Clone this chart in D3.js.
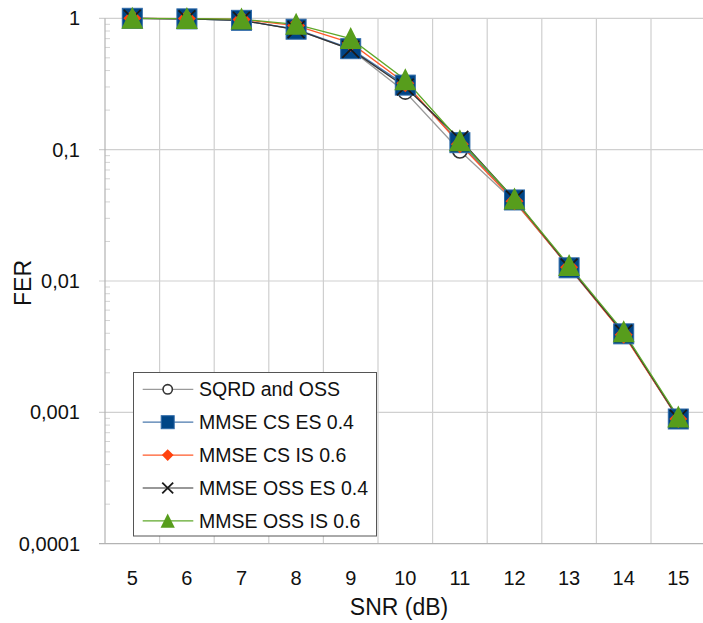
<!DOCTYPE html>
<html>
<head>
<meta charset="utf-8">
<script src="https://cdn.jsdelivr.net/npm/d3@7"></script>
<style>
  html, body { margin: 0; padding: 0; background: #fff; }
  svg { display: block; font-family: "Liberation Sans", Arial, sans-serif; }
</style>
</head>
<body>
<svg id="chart" width="703" height="623"></svg>
<script>
// SNR points (dB)
const snr = [5, 6, 7, 8, 9, 10, 11, 12, 13, 14, 15];

// Frame error rate per detector
const sqrdOss    = [1, 0.99, 0.965, 0.82, 0.58, 0.275, 0.098, 0.040, 0.0128, 0.0040, 0.00088];
const mmseCsEs   = [1, 0.99, 0.965, 0.826, 0.587, 0.31, 0.113, 0.0414, 0.0126, 0.00396, 0.00089];
const mmseCsIs   = [1, 0.995, 0.98, 0.88, 0.65, 0.32, 0.110, 0.0405, 0.0127, 0.0039, 0.00089];
const mmseOssEs  = [1, 0.99, 0.965, 0.82, 0.58, 0.30, 0.120, 0.042, 0.0128, 0.0040, 0.00090];
const mmseOssIs  = [1, 0.995, 0.985, 0.90, 0.70, 0.34, 0.117, 0.042, 0.0131, 0.0041, 0.00092];

const seriesNames = ["SQRD and OSS", "MMSE CS ES 0.4", "MMSE CS IS 0.6", "MMSE OSS ES 0.4", "MMSE OSS IS 0.6"];
const yTickValues = [0.0001, 0.001, 0.01, 0.1, 1];
const yTickLabels = ["0,0001", "0,001", "0,01", "0,1", "1"];

const series = [
  { name: seriesNames[0], values: sqrdOss,   line: "#9a9a9a", marker: "circle" },
  { name: seriesNames[1], values: mmseCsEs,  line: "#4a78ad", marker: "square" },
  { name: seriesNames[2], values: mmseCsIs,  line: "#ff5a2a", marker: "diamond" },
  { name: seriesNames[3], values: mmseOssEs, line: "#333333", marker: "cross" },
  { name: seriesNames[4], values: mmseOssIs, line: "#5fa82a", marker: "triangle" }
];

const svg = d3.select("#chart");
const plotLeft = 105, plotTop = 18.3, plotBottom = 543.7, step = 54.6;
const plotRight = plotLeft + step * snr.length;

const x = d3.scaleBand().domain(snr).range([plotLeft, plotRight]);
const y = d3.scaleLog().domain([1e-4, 1]).range([plotBottom, plotTop]);
const cx = d => x(d) + x.bandwidth() / 2;

const grid = svg.append("g");
// vertical grid at category boundaries
snr.forEach((d, i) => {
  if (i === 0) return;
  grid.append("line")
    .attr("x1", x(d)).attr("x2", x(d))
    .attr("y1", plotTop).attr("y2", plotBottom)
    .attr("stroke", "#cfcfcf").attr("stroke-width", 1.2);
});
// horizontal grid at decades
yTickValues.forEach(v => {
  if (v === 1e-4) return;
  grid.append("line")
    .attr("x1", plotLeft - 6).attr("x2", 703)
    .attr("y1", y(v)).attr("y2", y(v))
    .attr("stroke", "#d0d0d0").attr("stroke-width", 1.2);
});
// minor ticks inside the left axis
for (let e = -4; e < 0; e++) {
  for (let m = 2; m <= 9; m++) {
    const v = m * Math.pow(10, e);
    grid.append("line")
      .attr("x1", plotLeft).attr("x2", plotLeft + 5)
      .attr("y1", y(v)).attr("y2", y(v))
      .attr("stroke", "#d4d4d4").attr("stroke-width", 1);
  }
}
// axes
grid.append("line").attr("x1", plotLeft).attr("x2", plotLeft).attr("y1", plotTop).attr("y2", plotBottom)
  .attr("stroke", "#b3b3b3").attr("stroke-width", 1.2);
grid.append("line").attr("x1", plotLeft - 6).attr("x2", 703).attr("y1", plotBottom).attr("y2", plotBottom)
  .attr("stroke", "#b3b3b3").attr("stroke-width", 1.2);

// tick labels
const yAxis = d3.axisLeft(y).tickValues(yTickValues)
  .tickFormat((d, i) => yTickLabels[i]).tickSize(0).tickPadding(25);
const gy = svg.append("g").attr("transform", `translate(${plotLeft},0)`).call(yAxis);
gy.select(".domain").remove();
gy.selectAll("text").attr("font-size", 20).attr("fill", "#111")
  .attr("font-family", "Liberation Sans, Arial, sans-serif");

const xAxis = d3.axisBottom(x).tickSize(0).tickPadding(27);
const gx = svg.append("g").attr("transform", `translate(0,${plotBottom})`).call(xAxis);
gx.select(".domain").remove();
gx.selectAll("text").attr("font-size", 20).attr("fill", "#111")
  .attr("font-family", "Liberation Sans, Arial, sans-serif");

// axis titles
svg.append("text").attr("x", 399).attr("y", 615).attr("text-anchor", "middle")
  .attr("font-size", 23).attr("fill", "#111").text("SNR (dB)");
svg.append("text").attr("transform", `translate(31,${(plotTop + plotBottom) / 2 + 2}) rotate(-90)`)
  .attr("text-anchor", "middle").attr("font-size", 23).attr("fill", "#111").text("FER");

// marker drawing
function drawMarker(g, type, px, py, s) {
  if (type === "circle") {
    g.append("circle").attr("cx", px).attr("cy", py).attr("r", s * 0.36)
      .attr("fill", "#fff").attr("stroke", "#333").attr("stroke-width", 1.6);
  } else if (type === "square") {
    g.append("rect").attr("x", px - s / 2).attr("y", py - s / 2).attr("width", s).attr("height", s)
      .attr("fill", "#004586").attr("stroke", "#2f6aa8").attr("stroke-width", 1);
  } else if (type === "diamond") {
    const h = s * 0.45;
    g.append("path").attr("d", `M${px},${py - h}L${px + h},${py}L${px},${py + h}L${px - h},${py}Z`)
      .attr("fill", "#ff420e");
  } else if (type === "cross") {
    const h = s * 0.42;
    g.append("path").attr("d", `M${px - h},${py - h}L${px + h},${py + h}M${px + h},${py - h}L${px - h},${py + h}`)
      .attr("stroke", "#1a1a1a").attr("stroke-width", 1.8).attr("fill", "none");
  } else if (type === "triangle") {
    const h = s * 0.55;
    g.append("path").attr("d", `M${px},${py - h * 1.05}L${px + h},${py + h * 0.95}L${px - h},${py + h * 0.95}Z`)
      .attr("fill", "#579d1c");
  }
}

const line = d3.line().x((d, i) => cx(snr[i])).y(d => y(d));
const plot = svg.append("g");
series.forEach(s => {
  plot.append("path").datum(s.values).attr("d", line)
    .attr("fill", "none").attr("stroke", s.line).attr("stroke-width", 1.3);
});
series.forEach(s => {
  const g = plot.append("g");
  s.values.forEach((v, i) => drawMarker(g, s.marker, cx(snr[i]), y(v), 20));
});

// legend
const lg = svg.append("g");
lg.append("rect").attr("x", 133.5).attr("y", 372.5).attr("width", 243).attr("height", 163.5)
  .attr("fill", "#fff").attr("stroke", "#555").attr("stroke-width", 1);
series.forEach((s, i) => {
  const ry = 389.3 + i * 32.9;
  lg.append("line").attr("x1", 142.7).attr("x2", 193.3).attr("y1", ry).attr("y2", ry)
    .attr("stroke", s.line).attr("stroke-width", 1.2);
  drawMarker(lg, s.marker, 167.7, ry, 13);
  lg.append("text").attr("x", 199).attr("y", ry + 7).attr("font-size", 19.5).attr("fill", "#111")
    .text(s.name);
});
</script>
</body>
</html>
